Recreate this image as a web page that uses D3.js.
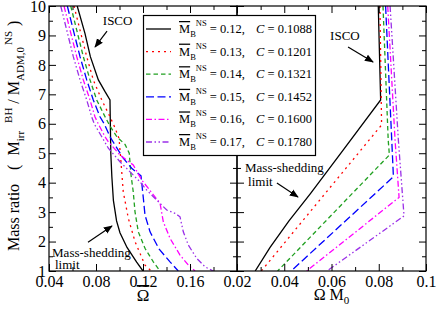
<!DOCTYPE html>
<html>
<head>
<meta charset="utf-8">
<script src="https://cdn.jsdelivr.net/npm/d3@7"></script>
<style>
body { margin: 0; background: #fff; }
text { font-family: "Liberation Serif", "Times New Roman", serif; fill: #000; }
</style>
</head>
<body>
<svg id="chart" width="436" height="309"></svg>
<script>
// baryon masses and compactness of the NS in each sequence
var massB = ["0.12", "0.13", "0.14", "0.15", "0.16", "0.17"];
var compact = ["0.1088", "0.1201", "0.1321", "0.1452", "0.1600", "0.1780"];
var colors = ["#000000", "#ff0000", "#20a020", "#0000ff", "#ff00ff", "#9b30e8"];
var dashes = [null, "2,4", "4.5,3", "8,3.5", "6,2.5,1.5,2.5", "6,2.5,1.5,2.5,1.5,2.5"];

// left panel: mass ratio vs Omega-bar  [Omega-bar, ratio]
var leftCurves = [
  [[0.0640,10],[0.0706,9.07],[0.0752,8.28],[0.0820,7.49],[0.0877,7.09],[0.0919,6.81],[0.0922,6.0],[0.0926,5.0],[0.0935,4.2],[0.0948,3.4],[0.0975,2.7],[0.1004,2.3],[0.1064,1.8],[0.1146,1.3],[0.1200,1.0]],
  [[0.0613,10],[0.0664,9.18],[0.0721,8.28],[0.0777,7.49],[0.0849,6.81],[0.0919,6.24],[0.0962,5.86],[0.0996,5.5],[0.1010,4.84],[0.1032,3.69],[0.1075,2.79],[0.1132,2.0],[0.1217,1.2],[0.1270,1.0]],
  [[0.0585,10],[0.0636,9.18],[0.0692,8.28],[0.0749,7.49],[0.0806,6.81],[0.0877,6.24],[0.0919,5.92],[0.0979,5.55],[0.1047,5.3],[0.1083,5.0],[0.1098,4.26],[0.1117,3.69],[0.1132,3.01],[0.1160,2.33],[0.1217,1.77],[0.1288,1.31],[0.1345,1.0]],
  [[0.0556,10],[0.0607,9.18],[0.0664,8.28],[0.0721,7.49],[0.0777,6.81],[0.0834,6.24],[0.0871,5.99],[0.0919,5.56],[0.1032,4.83],[0.1104,4.49],[0.1183,4.23],[0.1203,3.47],[0.1217,2.9],[0.1260,2.33],[0.1336,1.75],[0.1430,1.31],[0.1500,1.0]],
  [[0.0528,10],[0.0579,9.18],[0.0636,8.28],[0.0692,7.49],[0.0749,6.81],[0.0791,6.24],[0.0820,5.99],[0.0877,5.56],[0.0905,5.39],[0.1004,4.94],[0.1117,4.6],[0.1189,4.09],[0.1302,3.52],[0.1345,3.3],[0.1373,2.67],[0.1430,2.11],[0.1515,1.54],[0.1586,1.2],[0.1643,1.0]],
  [[0.0500,10],[0.0551,9.18],[0.0607,8.28],[0.0664,7.49],[0.0721,6.81],[0.0763,6.24],[0.0786,5.99],[0.0849,5.56],[0.0905,5.17],[0.1004,4.71],[0.1174,4.03],[0.1231,3.75],[0.1317,3.41],[0.1402,3.07],[0.1472,2.96],[0.1515,2.84],[0.1543,2.33],[0.1586,1.88],[0.1657,1.43],[0.1728,1.14],[0.1798,1.0]]
];

// right panel: mass ratio vs Omega*M0  [Omega M0, ratio]
var rightCurves = [
  [[0.0798,10],[0.0808,6.81],[0.0650,5.11],[0.0510,3.62],[0.0420,2.70],[0.0340,1.80],[0.0277,1.0]],
  [[0.0805,10],[0.0812,5.96],[0.0303,1.0]],
  [[0.0818,10],[0.0840,5.45],[0.0845,4.94],[0.0372,1.0]],
  [[0.0829,10],[0.0855,5.45],[0.0862,4.2],[0.0429,1.0]],
  [[0.0838,10],[0.0869,5.45],[0.0886,3.5],[0.0495,1.0]],
  [[0.0848,10],[0.0883,5.45],[0.0907,2.87],[0.0581,1.0]]
];

var leftTicks = [0.04, 0.08, 0.12, 0.16];
var leftMinor = [0.06, 0.10, 0.14, 0.18];
var rightTicks = [0.02, 0.04, 0.06, 0.08, 0.10];
var rightMinor = [0.03, 0.05, 0.07, 0.09];
var yTicks = [1, 2, 3, 4, 5, 6, 7, 8, 9, 10];
var yMinor = [1.5, 2.5, 3.5, 4.5, 5.5, 6.5, 7.5, 8.5, 9.5];

var svg = d3.select("#chart");
var plotTop = 6, plotBottom = 271;
var xL = d3.scaleLinear().domain([0.04, 0.20]).range([49, 237]);
var xR = d3.scaleLinear().domain([0.02, 0.10]).range([237, 426]);
var y = d3.scaleLinear().domain([1, 10]).range([plotBottom, plotTop]);

var defs = svg.append("defs");
defs.append("clipPath").attr("id", "clipL").append("rect")
  .attr("x", 49).attr("y", plotTop).attr("width", 188).attr("height", plotBottom - plotTop);
defs.append("clipPath").attr("id", "clipR").append("rect")
  .attr("x", 237).attr("y", plotTop).attr("width", 189).attr("height", plotBottom - plotTop);
defs.append("marker").attr("id", "arrow").attr("viewBox", "0 0 10 10")
  .attr("refX", 9).attr("refY", 5).attr("markerWidth", 9).attr("markerHeight", 9)
  .attr("markerUnits", "userSpaceOnUse").attr("orient", "auto")
  .append("path").attr("d", "M0,1 L10,5 L0,9 z").attr("fill", "#000");

function drawCurves(data, xs, clip) {
  var line = d3.line().x(function(d) { return xs(d[0]); }).y(function(d) { return y(d[1]); });
  svg.append("g").attr("clip-path", "url(#" + clip + ")")
    .selectAll("path").data(data).enter().append("path")
    .attr("d", line)
    .attr("fill", "none")
    .attr("stroke", function(d, i) { return colors[i]; })
    .attr("stroke-width", 1.3)
    .attr("stroke-dasharray", function(d, i) { return dashes[i]; });
}
drawCurves(leftCurves, xL, "clipL");
drawCurves(rightCurves, xR, "clipR");

function axisG(axis, tx, ty, noLabels) {
  var g = svg.append("g").attr("transform", "translate(" + tx + "," + ty + ")").call(axis);
  g.attr("font-family", null).attr("font-size", null);
  g.select(".domain").remove();
  g.selectAll("line").attr("stroke", "#000");
  g.selectAll("text").style("font-family", "'Liberation Serif', serif").style("font-size", "16px");
  if (noLabels) g.selectAll("text").remove();
  return g;
}
var fmtL = function(d) { return d.toFixed(2); };
var fmtR = function(d) { return d === 0.1 ? "0.1" : d.toFixed(2); };

// x axes, bottom and top
axisG(d3.axisBottom(xL).tickValues(leftTicks).tickFormat(fmtL).tickSize(-7).tickPadding(5), 0, plotBottom);
axisG(d3.axisBottom(xL).tickValues(leftMinor).tickSize(-4), 0, plotBottom, true);
axisG(d3.axisTop(xL).tickValues(leftTicks).tickSize(-7), 0, plotTop, true);
axisG(d3.axisTop(xL).tickValues(leftMinor).tickSize(-4), 0, plotTop, true);
axisG(d3.axisBottom(xR).tickValues(rightTicks).tickFormat(fmtR).tickSize(-7).tickPadding(5), 0, plotBottom);
axisG(d3.axisBottom(xR).tickValues(rightMinor).tickSize(-4), 0, plotBottom, true);
axisG(d3.axisTop(xR).tickValues(rightTicks).tickSize(-7), 0, plotTop, true);
axisG(d3.axisTop(xR).tickValues(rightMinor).tickSize(-4), 0, plotTop, true);

// y axes on each panel edge
axisG(d3.axisLeft(y).tickValues(yTicks).tickSize(-7).tickPadding(3), 49, 0);
axisG(d3.axisLeft(y).tickValues(yMinor).tickSize(-4), 49, 0, true);
axisG(d3.axisRight(y).tickValues(yTicks).tickSize(-7), 237, 0, true);
axisG(d3.axisRight(y).tickValues(yMinor).tickSize(-4), 237, 0, true);
axisG(d3.axisLeft(y).tickValues(yTicks).tickSize(-7), 237, 0, true);
axisG(d3.axisLeft(y).tickValues(yMinor).tickSize(-4), 237, 0, true);
axisG(d3.axisRight(y).tickValues(yTicks).tickSize(-7), 426, 0, true);
axisG(d3.axisRight(y).tickValues(yMinor).tickSize(-4), 426, 0, true);

// frames
svg.append("rect").attr("x", 49).attr("y", plotTop).attr("width", 188).attr("height", plotBottom - plotTop)
  .attr("fill", "none").attr("stroke", "#000").attr("stroke-width", 1.2);
svg.append("rect").attr("x", 237).attr("y", plotTop).attr("width", 189).attr("height", plotBottom - plotTop)
  .attr("fill", "none").attr("stroke", "#000").attr("stroke-width", 1.2);

// annotations [text, x, y] in data units, arrows [x1, y1, x2, y2]
var leftNotes = [["ISCO", 0.0858, 9.35], ["Mass-shedding", 0.0426, 1.47], ["limit", 0.0451, 1.08]];
var leftArrows = [[0.0732, 1.98, 0.0936, 2.53], [0.0894, 9.15, 0.0792, 8.61]];
var rightNotes = [["ISCO", 0.0594, 8.85], ["Mass-shedding", 0.0234, 4.36], ["limit", 0.0247, 3.89]];
var rightArrows = [[0.0670, 8.61, 0.0776, 8.10], [0.0369, 3.99, 0.0458, 3.51]];

function notes(list, arrows, xs) {
  svg.append("g").selectAll("text").data(list).enter().append("text")
    .attr("x", function(d) { return xs(d[1]); }).attr("y", function(d) { return y(d[2]); })
    .style("font-size", "13px").text(function(d) { return d[0]; });
  svg.append("g").selectAll("line").data(arrows).enter().append("line")
    .attr("x1", function(d) { return xs(d[0]); }).attr("y1", function(d) { return y(d[1]); })
    .attr("x2", function(d) { return xs(d[2]); }).attr("y2", function(d) { return y(d[3]); })
    .attr("stroke", "#000").attr("stroke-width", 1.2).attr("marker-end", "url(#arrow)");
}
notes(leftNotes, leftArrows, xL);
notes(rightNotes, rightArrows, xR);

// legend
var leg = svg.append("g");
leg.append("rect").attr("x", 143.5).attr("y", 15.5).attr("width", 172).attr("height", 140)
  .attr("fill", "#fff").attr("stroke", "#000").attr("stroke-width", 1.2);
var rows = leg.selectAll("g.row").data(massB).enter().append("g")
  .attr("transform", function(d, i) { return "translate(0," + (29 + i * 22.6) + ")"; });
rows.append("line").attr("x1", 146).attr("x2", 171).attr("y1", 0).attr("y2", 0)
  .attr("stroke", function(d, i) { return colors[i]; }).attr("stroke-width", 1.3)
  .attr("stroke-dasharray", function(d, i) { return dashes[i]; });
var lt = rows.append("text").attr("x", 179).attr("y", 4).style("font-size", "12.5px");
lt.append("tspan").style("text-decoration", "overline").text("M");
lt.append("tspan").attr("dy", 4).style("font-size", "8.5px").text("B");
lt.append("tspan").attr("dy", -11).style("font-size", "8.5px").text("NS");
lt.append("tspan").attr("dy", 7).text(function(d) { return " = " + d + ","; });
rows.append("text").attr("x", 256).attr("y", 4).style("font-size", "12.5px")
  .html(function(d, i) { return "<tspan font-style='italic'>C</tspan> = " + compact[i]; });

// y axis title, reads bottom to top
var yl = svg.append("text").attr("transform", "translate(19,251) rotate(-90)")
  .style("font-size", "16px");
yl.append("tspan").text("Mass ratio");
yl.append("tspan").attr("dx", 14).text("(");
yl.append("tspan").attr("dx", 9).text("M");
yl.append("tspan").attr("dy", 5).style("font-size", "11px").text("irr");
yl.append("tspan").attr("dx", 8).attr("dy", -12).style("font-size", "11px").text("BH");
yl.append("tspan").attr("dx", 4).attr("dy", 7).text("/");
yl.append("tspan").attr("dx", 4).text("M");
yl.append("tspan").attr("dy", 5).style("font-size", "11px").text("ADM,0");
yl.append("tspan").attr("dx", 2).attr("dy", -12).style("font-size", "11px").text("NS");
yl.append("tspan").attr("dx", 5).attr("dy", 7).text(")");

svg.append("text").attr("x", xL(0.12)).attr("y", 301).attr("text-anchor", "middle")
  .style("font-size", "17px").style("text-decoration", "overline").text("\u03a9");
var xr = svg.append("text").attr("x", xR(0.06)).attr("y", 300).attr("text-anchor", "middle")
  .style("font-size", "16px");
xr.append("tspan").text("\u03a9 M");
xr.append("tspan").attr("dy", 4).style("font-size", "11px").text("0");
</script>
</body>
</html>
